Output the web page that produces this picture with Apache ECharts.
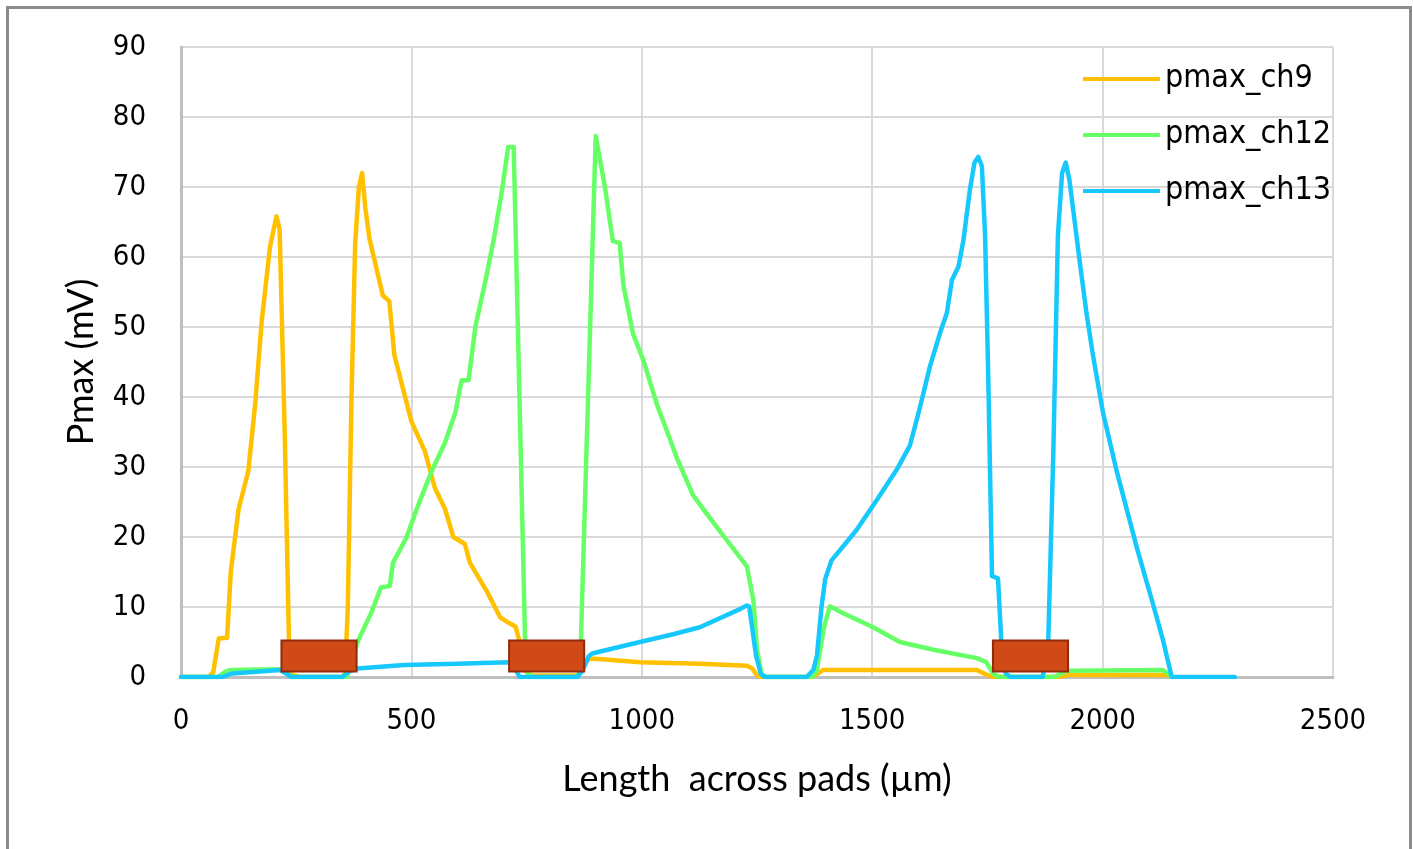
<!DOCTYPE html>
<html>
<head>
<meta charset="utf-8">
<title>Pmax across pads</title>
<script src="https://cdn.jsdelivr.net/npm/echarts@6/dist/echarts.min.js"></script>
<style>
  html, body { margin: 0; padding: 0; background: #fff; }
  #chart { width: 1413px; height: 849px; }
</style>
</head>
<body>
<div id="chart"></div>
<script>
// Positions along the pad row (µm) and measured pulse maxima (mV)
const ch9X = [0, 60, 70, 82, 100, 108, 125, 146, 161, 175, 193, 207, 214, 225, 235, 240, 260, 350, 356, 362, 370, 378, 386, 393, 400, 409, 438, 452, 463, 500, 529, 551, 573, 591, 616, 627, 664, 693, 712, 726, 737, 745, 760, 860, 872, 885, 900, 996, 1126, 1228, 1240, 1250, 1260, 1370, 1380, 1393, 1500, 1727, 1749, 1762, 1900, 1930, 2140, 2150];
const ch9Y = [0, 0, 0.7, 5.5, 5.6, 15, 24, 29.4, 39, 50.7, 61.4, 65.8, 64, 35, 3, 0.3, 0, 0, 0.5, 10, 40, 62, 70, 72, 67, 62.6, 54.5, 53.7, 46, 36.5, 32.3, 27, 24, 20, 19, 16.3, 12.2, 8.5, 7.7, 7.2, 4.5, 1, 0.2, 0.2, 1.5, 2.6, 2.6, 2.1, 1.9, 1.6, 1.2, 0.2, 0, 0, 0.4, 1, 1, 1, 0.3, 0, 0, 0.3, 0.3, 0];

const ch12X = [0, 80, 95, 106, 215, 230, 240, 360, 372, 383, 413, 434, 453, 460, 489, 515, 544, 573, 595, 609, 624, 639, 661, 679, 697, 710, 722, 748, 756, 765, 860, 866, 900, 920, 937, 952, 960, 981, 1003, 1033, 1061, 1076, 1111, 1141, 1185, 1228, 1242, 1250, 1260, 1270, 1370, 1380, 1395, 1408, 1437, 1502, 1560, 1633, 1727, 1748, 1762, 1775, 1895, 1910, 1922, 2130, 2140, 2150];
const ch12Y = [0, 0, 0.7, 1, 1.1, 0.6, 0, 0, 2.7, 5, 9.2, 12.8, 13, 16.3, 19.9, 24.6, 29.4, 33.5, 37.7, 42.4, 42.4, 50.1, 56.7, 62.6, 69.7, 75.7, 75.7, 1.5, 0.2, 0, 0, 1, 77.3, 70, 62.3, 62, 56, 49, 45.3, 38.9, 34, 31.3, 26, 23.3, 19.5, 15.8, 11, 4, 0.3, 0, 0, 1, 7, 10.1, 9.1, 7.1, 5, 3.9, 2.7, 2.1, 0.5, 0, 0, 0.5, 0.9, 1, 0.6, 0];

const ch13X = [0, 90, 110, 215, 228, 240, 350, 365, 382, 485, 600, 712, 722, 735, 860, 872, 885, 894, 996, 1068, 1126, 1213, 1228, 1233, 1248, 1258, 1267, 1358, 1372, 1380, 1390, 1398, 1412, 1430, 1466, 1510, 1553, 1582, 1604, 1625, 1647, 1662, 1673, 1687, 1698, 1712, 1722, 1730, 1738, 1745, 1752, 1760, 1773, 1781, 1790, 1800, 1870, 1882, 1893, 1903, 1912, 1920, 1928, 1951, 1965, 1979, 2001, 2031, 2075, 2109, 2131, 2150, 2287];
const ch13Y = [0, 0, 0.5, 1, 0.5, 0, 0, 0.8, 1.2, 1.7, 1.9, 2.1, 1.5, 0, 0, 1, 3, 3.4, 5, 6.1, 7.1, 9.7, 10.2, 10.1, 3, 0.5, 0, 0, 1, 3, 10, 14, 16.7, 18.1, 21, 25.3, 29.6, 33.1, 38.6, 44.3, 49.1, 52, 56.7, 58.6, 62.4, 69.6, 73.5, 74.3, 73, 63, 42.4, 14.4, 14.1, 4, 0.5, 0, 0, 5, 32, 63, 72, 73.5, 71, 59, 52, 46, 37.7, 29.3, 18.3, 10.5, 5.3, 0, 0];

// Pad outlines (µm along x, mV band along y)
const padStart = [218, 712, 1762];
const padEnd = [381, 875, 1925];
const padLow = 0.8;
const padHigh = 5.2;

const seriesNames = ['pmax_ch9', 'pmax_ch12', 'pmax_ch13'];
const seriesColors = ['#FFC000', '#66FF66', '#16C8FC'];

// axis ranges and tick steps
const yMin = 0, yMax = 90, yStep = 10;
const xMin = 0, xMax = 2500, xStep = 500;

const zip = (xs, ys) => xs.map((x, i) => [x, ys[i]]);
const curves = [zip(ch9X, ch9Y), zip(ch12X, ch12Y), zip(ch13X, ch13Y)];
const pads = padStart.map((s, i) => [s, padEnd[i], padLow, padHigh]);

const tickFont = '"DejaVu Sans Condensed", "DejaVu Sans", sans-serif';
const nameFont = 'Lato, "Open Sans", sans-serif';

const chart = echarts.init(document.getElementById('chart'), null, { renderer: 'canvas' });

const lineSeries = curves.map((data, i) => ({
  name: seriesNames[i],
  type: 'line',
  data: data,
  showSymbol: false,
  symbol: 'none',
  smooth: false,
  animation: false,
  color: seriesColors[i],
  lineStyle: { width: 4.5, color: seriesColors[i], join: 'round', cap: 'round' },
  z: 2 + i
}));

const padSeries = {
  name: 'pads',
  type: 'custom',
  animation: false,
  z: 10,
  data: pads,
  renderItem: function (params, api) {
    const p0 = api.coord([api.value(0), api.value(3)]);
    const p1 = api.coord([api.value(1), api.value(2)]);
    return {
      type: 'rect',
      shape: { x: p0[0], y: p0[1], width: p1[0] - p0[0], height: p1[1] - p0[1] },
      style: { fill: '#D04A18', stroke: '#8E2C0C', lineWidth: 2 }
    };
  }
};

chart.setOption({
  backgroundColor: '#ffffff',
  animation: false,
  graphic: [{
    type: 'rect',
    left: 5, top: 5,
    shape: { x: 0, y: 0, width: 1403, height: 900 },
    style: { fill: 'none', stroke: '#8C8C8C', lineWidth: 3 },
    silent: true
  }],
  grid: {
    left: 181, right: 80, top: 47, bottom: 172,
    outerBoundsMode: 'none'
  },
  legend: {
    data: seriesNames,
    orient: 'vertical',
    left: 1078,
    top: 58,
    icon: 'rect',
    itemWidth: 77,
    itemHeight: 4,
    itemGap: 24,
    textStyle: { fontFamily: tickFont, fontSize: 32, color: '#000', lineHeight: 32 }
  },
  xAxis: {
    type: 'value',
    min: xMin, max: xMax, interval: xStep,
    name: 'Length  across pads (µm)',
    nameLocation: 'middle',
    nameGap: 84,
    nameTextStyle: { fontFamily: nameFont, fontSize: 36, color: '#000' },
    axisLine: { show: true, lineStyle: { color: '#BFBFBF', width: 3 } },
    axisTick: { show: false },
    axisLabel: {
      fontFamily: tickFont, fontSize: 29, color: '#000', margin: 30,
      formatter: v => String(v)
    },
    splitLine: { show: true, lineStyle: { color: '#D9D9D9', width: 2 } }
  },
  yAxis: {
    type: 'value',
    min: yMin, max: yMax, interval: yStep,
    name: 'Pmax (mV)',
    nameLocation: 'middle',
    nameGap: 82,
    nameRotate: 90,
    nameTextStyle: { fontFamily: nameFont, fontSize: 36, color: '#000' },
    axisLine: { show: true, lineStyle: { color: '#BFBFBF', width: 3 } },
    axisTick: { show: false },
    axisLabel: {
      fontFamily: tickFont, fontSize: 29, color: '#000', margin: 35,
      formatter: v => String(v)
    },
    splitLine: { show: true, lineStyle: { color: '#D9D9D9', width: 2 } }
  },
  series: lineSeries.concat([padSeries])
});
</script>
</body>
</html>
